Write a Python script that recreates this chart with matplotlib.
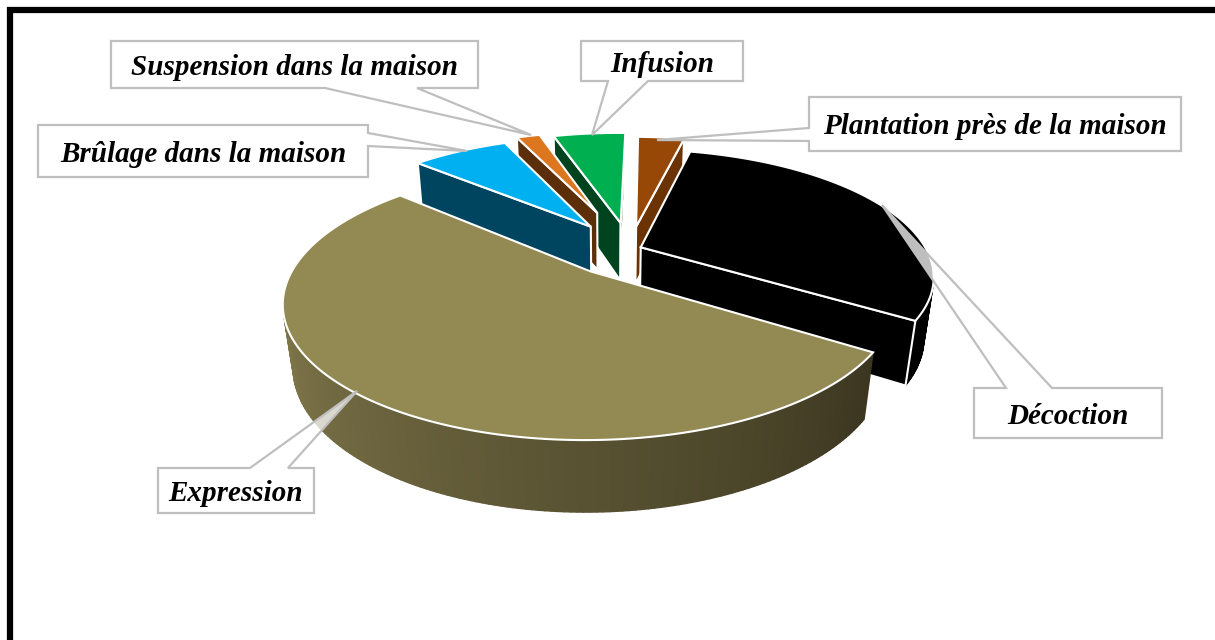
""" plot.py
    3D exploded pie chart with callout labels, drawn with polygons
"""

# Imports
import numpy as np
import matplotlib
matplotlib.use("Agg")
import matplotlib.pyplot as plt
from matplotlib.collections import PolyCollection
from matplotlib.colors import to_rgb
from matplotlib.patches import Polygon, Rectangle

# Chart data, clockwise from the front right
LABELS = ["Expression", "Brûlage dans la maison", "Suspension dans la maison",
          "Infusion", "Plantation près de la maison", "Décoction"]
VALUES = [52.5, 6.9, 1.8, 5.1, 3.3, 30.4]

# Slice styles
EXPLODE = [0.215, 0.23, 0.33, 0.22, 0.19, 0.04]
RADII = [0.965, 0.94, 0.88, 0.96, 0.94, 0.96]
C_TOP = ["#938953", "#00B0F0", "#DC7720", "#00B050", "#974706", "#000000"]
C_WALL_A = ["#3B3620", "#00455F", "#5C2E0A", "#00441F", "#6B3304", "#000000"]
C_WALL_B = ["#7E7549", "#00455F", "#5C2E0A", "#00441F", "#6B3304", "#000000"]
DRAW_ORDER = [4, 3, 2, 1, 5, 0]
START_ANGLE = 33.0

# Callout layout: box (x0, y0, x1, y1), pointer base on the box, pointer tip
C_GREY = "#BFBFBF"
CALLOUTS = {
    "Expression": ((158, 468, 314, 513), "top", (250, 288), (357, 391)),
    "Brûlage dans la maison": ((38, 125, 368, 177), "right", (133, 146), (467, 151)),
    "Suspension dans la maison": ((111, 41, 478, 88), "bottom", (325, 417), (531, 135)),
    "Infusion": ((581, 41, 743, 81), "bottom", (608, 648), (592, 135)),
    "Plantation près de la maison": ((809, 97, 1181, 151), "left", (128, 141), (657, 140)),
    "Décoction": ((974, 388, 1162, 438), "top", (1006, 1052), (882, 205)),
}

# Projection of the pie plane onto the canvas
VX, VY = 609.0, 258.0
SCALE_X, SCALE_Y = 302.0, 129.0
PERSP, PERSP_DEPTH = 0.23, 0.03
THICK = 62.0
CENTER = (0.07, -0.07)


def project(x, y, d=0.0):
    """ Ground point (x, y) at depth d (0 top face, 1 bottom face) to canvas pixels """
    w = 1 - PERSP * y + PERSP_DEPTH * d
    return VX + SCALE_X * x / w, VY + (SCALE_Y * y + THICK * d) / w


def signed_area(pts):
    pts = np.asarray(pts)
    x, y = pts[:, 0], pts[:, 1]
    return 0.5 * np.sum(x * np.roll(y, -1) - np.roll(x, -1) * y)


def mix(c_a, c_b, t):
    return tuple((1 - t) * a + t * b for a, b in zip(to_rgb(c_a), to_rgb(c_b)))


def draw_slice(ax, t0, t1, explode, radius, c_top, c_a, c_b, z):
    mid = np.radians((t0 + t1) / 2)
    ax0 = CENTER[0] + explode * np.cos(mid)
    ay0 = CENTER[1] + explode * np.sin(mid)
    thetas = np.radians(np.linspace(t0, t1, max(int(t1 - t0), 8)))
    xs = ax0 + radius * np.cos(thetas)
    ys = ay0 + radius * np.sin(thetas)

    # Outer wall, keep only the quads facing the viewer
    quads = []
    for i in range(len(thetas) - 1):
        quad = [project(xs[i], ys[i]), project(xs[i + 1], ys[i + 1]),
                project(xs[i + 1], ys[i + 1], 1), project(xs[i], ys[i], 1)]
        if signed_area(quad) < 0:
            quads.append(quad)
    if quads:
        cols = [mix(c_a, c_b, i / max(len(quads) - 1, 1)) for i in range(len(quads))]
        ax.add_collection(PolyCollection(quads, facecolors=cols, edgecolors=cols,
                                         linewidths=1.0, zorder=z))

    # Radial cut faces, the start face shows when it winds one way, the end face the other
    for px, py, sign in ((xs[0], ys[0], -1), (xs[-1], ys[-1], 1)):
        face = [project(ax0, ay0), project(px, py),
                project(px, py, 1), project(ax0, ay0, 1)]
        if sign * signed_area(face) < 0:
            continue
        ax.add_patch(Polygon(face, closed=True, facecolor=c_a,
                             edgecolor="white", linewidth=1.5, zorder=z + 0.1))

    # Top face
    top = [project(ax0, ay0)] + [project(x, y) for x, y in zip(xs, ys)]
    ax.add_patch(Polygon(top, closed=True, facecolor=c_top, edgecolor="white",
                         linewidth=1.5, zorder=z + 0.2))


def draw_callout(ax, label, box, side, base, tip):
    x0, y0, x1, y1 = box
    if side == "top":
        pts = [(x0, y0), (base[0], y0), tip, (base[1], y0), (x1, y0), (x1, y1), (x0, y1)]
    elif side == "bottom":
        pts = [(x0, y0), (x1, y0), (x1, y1), (base[1], y1), tip, (base[0], y1), (x0, y1)]
    elif side == "right":
        pts = [(x0, y0), (x1, y0), (x1, base[0]), tip, (x1, base[1]), (x1, y1), (x0, y1)]
    else:
        pts = [(x0, y0), (x1, y0), (x1, y1), (x0, y1), (x0, base[1]), tip, (x0, base[0])]
    ax.add_patch(Polygon(pts, closed=True, facecolor=(1, 1, 1, 0.75), edgecolor=C_GREY,
                         linewidth=1.6, joinstyle="miter", zorder=50))
    ax.text((x0 + x1) / 2, (y0 + y1) / 2 + 3, label, family="Liberation Serif", weight="bold",
            style="italic", size=21, color="black", ha="center", va="center", zorder=51)


fig = plt.figure(figsize=(12.15, 6.4), dpi=100)
ax = fig.add_axes([0, 0, 1, 1])
ax.set_xlim(0, 1215)
ax.set_ylim(640, 0)
ax.axis("off")

# Black frame running off the right and bottom of the picture
ax.add_patch(Rectangle((9.5, 10), 1300, 700, facecolor="white", edgecolor="black",
                       linewidth=4.5, zorder=0))

# Slice angles from the values
spans = 360.0 * np.array(VALUES) / np.sum(VALUES)
ends = START_ANGLE + np.cumsum(spans)
starts = ends - spans

for z, i in enumerate(DRAW_ORDER):
    draw_slice(ax, starts[i], ends[i], EXPLODE[i], RADII[i], C_TOP[i],
               C_WALL_A[i], C_WALL_B[i], z + 1)

for label, (box, side, base, tip) in CALLOUTS.items():
    draw_callout(ax, label, box, side, base, tip)

fig.savefig("out.png", dpi=100)
plt.close(fig)
